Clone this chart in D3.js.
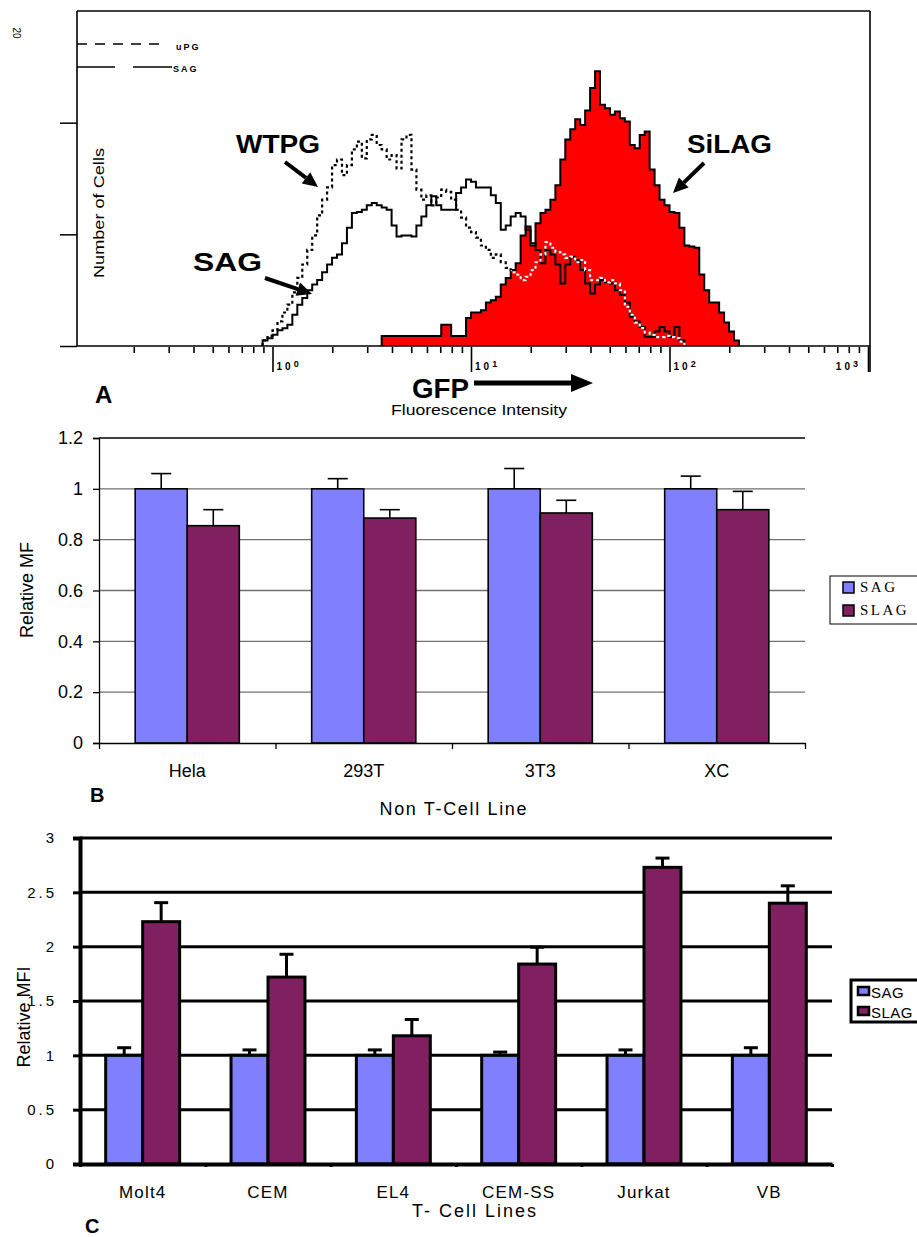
<!DOCTYPE html>
<html>
<head>
<meta charset="utf-8">
<script src="https://cdn.jsdelivr.net/npm/d3@7"></script>
<style>
body { margin: 0; background: #fff; }
svg { display: block; font-family: "Liberation Sans", Arial, sans-serif; }
</style>
</head>
<body>
<script>
// ---- panel A: GFP histograms, 40 log channels per decade, channel 0 = 10^-1
const binsPerDecade = 40;
const wtpgStart = 38;
const wtpgCounts = [5,9,14,22,30,37,48,61,73,86, 99,117,131,142,162,167,153,162,176,183,
  168,185,189,180,176,167,171,159,185,189, 158,140,131,135,126,133,140,138,131,122,
  115,106,102,97,90,86,79,82,75,70, 66,64,59,62,68,75,82,93,88,84,
  82,79,80,75,77,68,59,59,61,57, 59,56,50,35,28,21,16,12,10,8, 8,9,8,7,4];
const sagStart = 38;
const sagCounts = [5,7,10,14,16,19,28,37,43,50, 55,59,66,73,79,82,92,106,119,120,
  122,126,128,126,124,122,108,98,99,99, 98,108,116,126,134,126,122,122,122,137,
  142,149,147,142,142,142,135,128,104,108, 116,119,116,104,92,86,74,86,82,73,
  56,73,80,77,68,56,47,55,59,57, 56,50,46,39,26,22,17,8,8,13, 17,13,8,17,5];
const silagStart = 62;
const silagCounts = [9,9,9,9,9,9,9,9,9,9, 9,9,19,19,9,9,9,25,30,30,
  32,39,41,44,55,61,68,74,99,107, 90,110,119,122,131,144,167,185,194,203,
  198,211,231,246,216,213,207,210,204,201, 180,177,189,192,158,144,131,126,120,119,
  106,90,89,88,64,50,39,39,30,21, 13,5];
const decadeExps = [0, 1, 2, 3];

// ---- panel B: non T-cell lines
const nonTLines = ["Hela", "293T", "3T3", "XC"];
const nonTSag = [1, 1, 1, 1];
const nonTSagErr = [0.06, 0.04, 0.08, 0.05];
const nonTSlag = [0.855, 0.885, 0.905, 0.918];
const nonTSlagErr = [0.063, 0.033, 0.05, 0.072];
const nonTTicks = [0, 0.2, 0.4, 0.6, 0.8, 1, 1.2];

// ---- panel C: T-cell lines
const tLines = ["Molt4", "CEM", "EL4", "CEM-SS", "Jurkat", "VB"];
const tSag = [1, 1, 1, 1, 1, 1];
const tSagErr = [0.07, 0.05, 0.05, 0.03, 0.05, 0.07];
const tSlag = [2.23, 1.72, 1.18, 1.84, 2.73, 2.4];
const tSlagErr = [0.175, 0.21, 0.15, 0.155, 0.085, 0.16];
const tTicks = [0, 0.5, 1, 1.5, 2, 2.5, 3];

const series = ["SAG", "SLAG"];
const colors = { SAG: "#8080ff", SLAG: "#802060" };

const svg = d3.select("body").append("svg").attr("width", 917).attr("height", 1237);

function arrow(g, x1, y1, x2, y2, sw, hl, hw) {
  const a = Math.atan2(y2 - y1, x2 - x1);
  const bx = x2 - hl * Math.cos(a), by = y2 - hl * Math.sin(a);
  g.append("line").attr("x1", x1).attr("y1", y1).attr("x2", bx).attr("y2", by)
    .attr("stroke", "#000").attr("stroke-width", sw);
  const px = -Math.sin(a) * hw / 2, py = Math.cos(a) * hw / 2;
  g.append("polygon").attr("fill", "#000")
    .attr("points", [[x2, y2], [bx + px, by + py], [bx - px, by - py]].map(p => p.join(",")).join(" "));
}

// ================= PANEL A =================
const gA = svg.append("g");
const xA = d3.scaleLog().domain([0.1, 1000]).range([74, 868]);
const yA = d3.scaleLinear().domain([0, 300]).range([346, 11]);
const chan = i => Math.pow(10, -1 + i / binsPerDecade);

function histPts(counts, start) {
  const pts = [[chan(start), 0]];
  counts.forEach((c, k) => pts.push([chan(start + k), c]));
  pts.push([chan(start + counts.length), counts[counts.length - 1]]);
  pts.push([chan(start + counts.length), 0]);
  return pts;
}
const stepLine = d3.line().x(d => xA(d[0])).y(d => yA(d[1])).curve(d3.curveStepAfter);
const stepArea = d3.area().x(d => xA(d[0])).y0(yA(0)).y1(d => yA(d[1])).curve(d3.curveStepAfter);

const silagPts = histPts(silagCounts, silagStart);
const sagPts = histPts(sagCounts, sagStart);
const wtpgPts = histPts(wtpgCounts, wtpgStart);

gA.append("clipPath").attr("id", "redClip").append("path").attr("d", stepArea(silagPts));

gA.append("path").attr("d", stepArea(silagPts)).attr("fill", "#ff0000");
gA.append("path").attr("d", stepLine(silagPts)).attr("fill", "none").attr("stroke", "#000").attr("stroke-width", 2);
gA.append("path").attr("d", stepLine(sagPts)).attr("fill", "none").attr("stroke", "#000").attr("stroke-width", 2);
gA.append("path").attr("d", stepLine(wtpgPts)).attr("fill", "none").attr("stroke", "#000")
  .attr("stroke-width", 2.2).attr("stroke-dasharray", "3,3");
gA.append("path").attr("d", stepLine(wtpgPts)).attr("fill", "none").attr("stroke", "#fff")
  .attr("stroke-width", 2.2).attr("stroke-dasharray", "3,3").attr("clip-path", "url(#redClip)");

// frame
const frame = [[77, 11, 870, 11], [77, 11, 77, 346], [77, 346, 870, 346], [870, 11, 870, 372]];
frame.forEach(f => gA.append("line").attr("x1", f[0]).attr("y1", f[1]).attr("x2", f[2]).attr("y2", f[3])
  .attr("stroke", "#000").attr("stroke-width", 1.6));

// x ticks (log)
const minorVals = [];
for (let d = -1; d < 3; d++) for (let m = 2; m <= 9; m++) minorVals.push(m * Math.pow(10, d));
const majorVals = decadeExps.map(e => Math.pow(10, e));
gA.append("g").attr("transform", "translate(0,347)")
  .call(d3.axisBottom(xA).tickValues(minorVals).tickSize(6).tickFormat(""))
  .call(g => g.select(".domain").remove())
  .call(g => g.selectAll("line").attr("stroke-width", 1.6));
gA.append("g").attr("transform", "translate(0,347)")
  .call(d3.axisBottom(xA).tickValues(majorVals).tickSize(25).tickFormat(""))
  .call(g => g.select(".domain").remove())
  .call(g => g.selectAll("line").attr("stroke-width", 1.6));

const decLab = gA.selectAll(".declab").data(decadeExps).enter().append("text")
  .attr("x", e => e === 3 ? xA(Math.pow(10, e)) - 7 : xA(Math.pow(10, e)) + 4)
  .attr("y", 370).attr("text-anchor", e => e === 3 ? "end" : "start")
  .attr("font-size", 10).attr("font-weight", "bold").attr("letter-spacing", 3);
decLab.append("tspan").text("10");
decLab.append("tspan").attr("dy", -3).attr("font-size", 9).text(e => e);

// y ticks
gA.append("g").attr("transform", "translate(77,0)")
  .call(d3.axisLeft(yA).tickValues([0, 100, 200]).tickSize(17).tickFormat(""))
  .call(g => g.select(".domain").remove())
  .call(g => g.selectAll("line").attr("stroke-width", 1.5));

// small legend in the corner
gA.append("line").attr("x1", 77).attr("y1", 44).attr("x2", 163).attr("y2", 44)
  .attr("stroke", "#000").attr("stroke-width", 1.3).attr("stroke-dasharray", "10,8");
gA.append("line").attr("x1", 77).attr("y1", 67).attr("x2", 115).attr("y2", 67).attr("stroke", "#000").attr("stroke-width", 1.3);
gA.append("line").attr("x1", 133).attr("y1", 67).attr("x2", 172).attr("y2", 67).attr("stroke", "#000").attr("stroke-width", 1.3);
gA.append("text").attr("x", 176).attr("y", 50).attr("font-size", 9).attr("font-weight", "bold").attr("letter-spacing", 2).text("uPG");
gA.append("text").attr("x", 173).attr("y", 72).attr("font-size", 9).attr("font-weight", "bold").attr("letter-spacing", 2).text("SAG");
gA.append("text").attr("transform", "translate(13,33) rotate(90)").attr("text-anchor", "middle")
  .attr("font-size", 10).text("20");

gA.append("text").attr("transform", "translate(104,213) rotate(-90)").attr("text-anchor", "middle")
  .attr("font-size", 14).attr("textLength", 130).attr("lengthAdjust", "spacingAndGlyphs").text("Number of Cells");

// annotations
const bold = (x, y, s, t, len) => gA.append("text").attr("x", x).attr("y", y).attr("font-size", s)
  .attr("font-weight", "bold").attr("textLength", len).attr("lengthAdjust", "spacingAndGlyphs").text(t);
bold(236, 153, 26, "WTPG", 84);
bold(193, 271, 26, "SAG", 69);
bold(687, 153, 26, "SiLAG", 85);
bold(412, 398, 28, "GFP", 57);
gA.append("text").attr("x", 95).attr("y", 403).attr("font-size", 24).attr("font-weight", "bold").text("A");
arrow(gA, 285, 162, 318, 187, 4, 15, 14);
arrow(gA, 265, 278, 312, 294, 4, 15, 14);
arrow(gA, 704, 163, 673, 193, 4, 15, 14);
arrow(gA, 474, 383, 593, 383, 5, 22, 18);
gA.append("text").attr("x", 479).attr("y", 415).attr("text-anchor", "middle").attr("font-size", 14)
  .attr("textLength", 176).attr("lengthAdjust", "spacingAndGlyphs").text("Fluorescence Intensity");

// ================= bar panels =================
function barPanel(cfg) {
  const g = svg.append("g");
  const x = d3.scaleBand().domain(cfg.cats).range(cfg.xr).paddingInner(0.41).paddingOuter(0.205);
  const sub = d3.scaleBand().domain(series).range([0, x.bandwidth()]);
  const y = d3.scaleLinear().domain([0, cfg.ticks[cfg.ticks.length - 1]]).range(cfg.yr);

  // gridlines
  g.selectAll(".grid").data(cfg.ticks.slice(1)).enter().append("line")
    .attr("x1", cfg.xr[0]).attr("x2", cfg.xr[1]).attr("y1", d => y(d)).attr("y2", d => y(d))
    .attr("stroke", (d, i) => cfg.gridColor(i, cfg.ticks.length - 2)).attr("stroke-width", cfg.gridW);

  const vals = { SAG: cfg.sag, SLAG: cfg.slag };
  const errs = { SAG: cfg.sagErr, SLAG: cfg.slagErr };
  const bars = [];
  cfg.cats.forEach((c, i) => series.forEach(s => bars.push({ c, s, v: vals[s][i], e: errs[s][i] })));

  // error bars
  const eb = g.selectAll(".eb").data(bars).enter().append("g")
    .attr("stroke", "#000").attr("stroke-width", cfg.barW);
  eb.append("line").attr("x1", d => x(d.c) + sub(d.s) + sub.bandwidth() / 2)
    .attr("x2", d => x(d.c) + sub(d.s) + sub.bandwidth() / 2)
    .attr("y1", d => y(d.v)).attr("y2", d => y(d.v + d.e));
  eb.append("line").attr("x1", d => x(d.c) + sub(d.s) + sub.bandwidth() / 2 - cfg.cap)
    .attr("x2", d => x(d.c) + sub(d.s) + sub.bandwidth() / 2 + cfg.cap)
    .attr("y1", d => y(d.v + d.e)).attr("y2", d => y(d.v + d.e));

  g.selectAll(".bar").data(bars).enter().append("rect")
    .attr("x", d => x(d.c) + sub(d.s)).attr("width", sub.bandwidth())
    .attr("y", d => y(d.v)).attr("height", d => y(0) - y(d.v))
    .attr("fill", d => colors[d.s]).attr("stroke", "#000").attr("stroke-width", cfg.barW);

  // y axis
  g.append("g").attr("transform", `translate(${cfg.xr[0]},0)`)
    .call(d3.axisLeft(y).tickValues(cfg.ticks).tickSize(cfg.tickLen).tickPadding(cfg.tickPad)
      .tickFormat(d => String(+d.toFixed(1))))
    .call(a => a.select(".domain").attr("stroke-width", cfg.axisW))
    .call(a => a.selectAll("line").attr("stroke-width", cfg.gridW))
    .call(a => a.selectAll("text").attr("font-size", cfg.tickFont).attr("letter-spacing", cfg.tickLs)
      .attr("font-family", "Liberation Sans, Arial, sans-serif").attr("fill", "#000"));

  // x axis: baseline with boundary ticks
  const xb = d3.scaleLinear().domain([0, cfg.cats.length]).range(cfg.xr);
  g.append("g").attr("transform", `translate(0,${cfg.yr[0]})`)
    .call(d3.axisBottom(xb).tickValues(d3.range(cfg.cats.length + 1)).tickSize(cfg.xTickLen).tickSizeOuter(0).tickFormat(""))
    .call(a => a.select(".domain").attr("stroke-width", cfg.axisW))
    .call(a => a.selectAll("line").attr("stroke-width", cfg.gridW));
  g.append("g").attr("transform", `translate(0,${cfg.catY})`)
    .call(d3.axisBottom(x).tickSize(0).tickPadding(0))
    .call(a => a.select(".domain").remove())
    .call(a => a.selectAll("text").attr("font-size", cfg.catFont).attr("letter-spacing", cfg.catLs)
      .attr("dy", 0).attr("font-family", "Liberation Sans, Arial, sans-serif").attr("fill", "#000"));
  return g;
}

// ---- panel B
const gB = barPanel({
  cats: nonTLines, sag: nonTSag, sagErr: nonTSagErr, slag: nonTSlag, slagErr: nonTSlagErr,
  ticks: nonTTicks, xr: [99, 805], yr: [743, 438],
  gridColor: (i, n) => i === n ? "#000" : "#707070", gridW: 1.3, barW: 1.6, axisW: 1.3, cap: 10,
  tickLen: 6, tickPad: 10, tickFont: 18, tickLs: 0, xTickLen: 6, catY: 777, catFont: 18, catLs: 0
});
gB.append("text").attr("transform", "translate(33,590) rotate(-90)").attr("text-anchor", "middle")
  .attr("font-size", 18).text("Relative MF");
gB.append("text").attr("x", 453).attr("y", 815).attr("text-anchor", "middle").attr("font-size", 18)
  .attr("textLength", 147).text("Non T-Cell Line");
gB.append("text").attr("x", 90).attr("y", 802).attr("font-size", 20).attr("font-weight", "bold").text("B");
const legB = gB.append("g");
legB.append("rect").attr("x", 830).attr("y", 576).attr("width", 100).attr("height", 48)
  .attr("fill", "#fff").attr("stroke", "#000").attr("stroke-width", 1);
series.forEach((s, i) => {
  legB.append("rect").attr("x", 843).attr("y", 582 + i * 23).attr("width", 11).attr("height", 11)
    .attr("fill", colors[s]).attr("stroke", "#000").attr("stroke-width", 1.5);
  legB.append("text").attr("x", 860).attr("y", 592 + i * 23).attr("font-size", 15).attr("letter-spacing", 2.5)
    .attr("font-family", "Liberation Serif, Times New Roman, serif").text(s);
});

// ---- panel C
const gC = barPanel({
  cats: tLines, sag: tSag, sagErr: tSagErr, slag: tSlag, slagErr: tSlagErr,
  ticks: tTicks, xr: [80, 832], yr: [1164, 838],
  gridColor: () => "#000", gridW: 3, barW: 3, axisW: 4, cap: 7,
  tickLen: 7, tickPad: 16, tickFont: 15, tickLs: 3, xTickLen: 3, catY: 1198, catFont: 17, catLs: 1.2
});
gC.append("text").attr("transform", "translate(30,1017) rotate(-90)").attr("text-anchor", "middle")
  .attr("font-size", 18).text("Relative MFI");
gC.append("text").attr("x", 475).attr("y", 1217).attr("text-anchor", "middle").attr("font-size", 18)
  .attr("letter-spacing", 2).text("T- Cell Lines");
gC.append("text").attr("x", 85).attr("y", 1233).attr("font-size", 20).attr("font-weight", "bold").text("C");
const legC = gC.append("g");
legC.append("rect").attr("x", 851).attr("y", 980).attr("width", 90).attr("height", 42)
  .attr("fill", "#fff").attr("stroke", "#000").attr("stroke-width", 3);
series.forEach((s, i) => {
  legC.append("rect").attr("x", 858).attr("y", 987 + i * 20).attr("width", 11).attr("height", 8)
    .attr("fill", colors[s]).attr("stroke", "#000").attr("stroke-width", 2.5);
  legC.append("text").attr("x", 871).attr("y", 998 + i * 20).attr("font-size", 15).attr("letter-spacing", 0.5).text(s);
});
</script>
</body>
</html>
